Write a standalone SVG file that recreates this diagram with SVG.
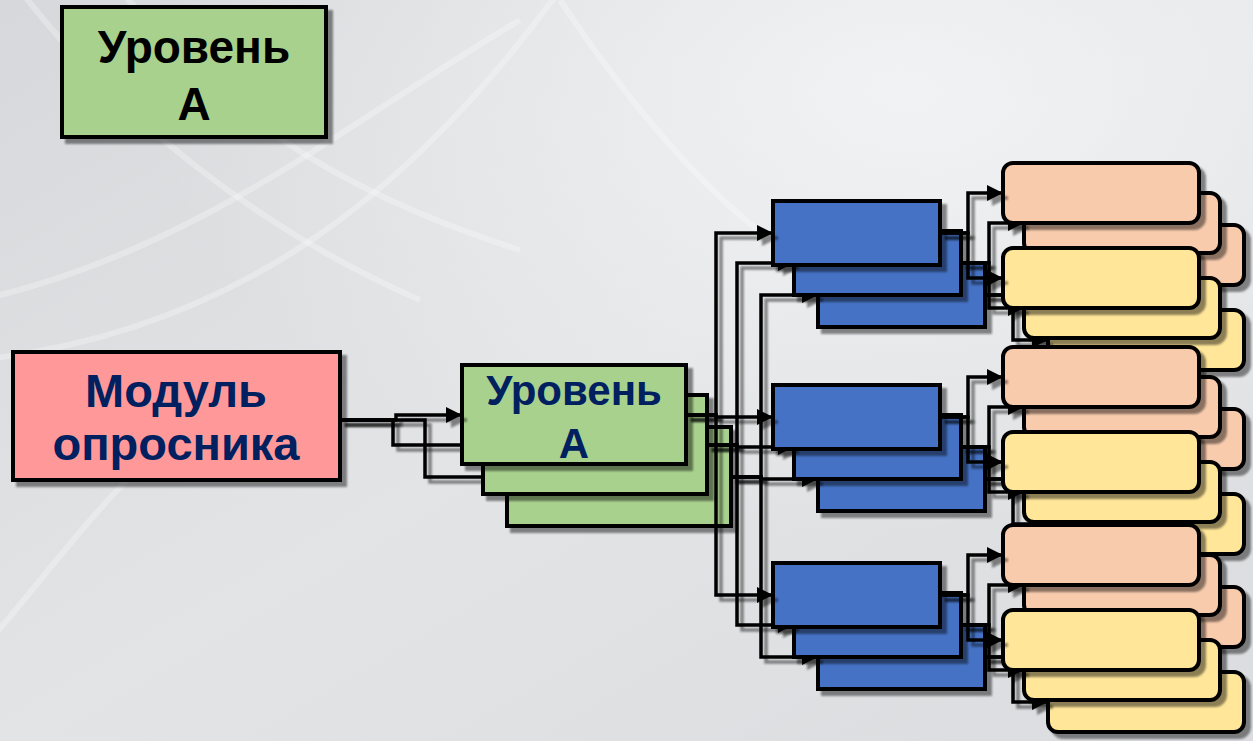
<svg xmlns="http://www.w3.org/2000/svg" width="1253" height="741" viewBox="0 0 1253 741">
<defs>
<linearGradient id="bg" x1="0" y1="0" x2="1" y2="1">
<stop offset="0" stop-color="#d6d8db"/>
<stop offset="0.5" stop-color="#e3e4e6"/>
<stop offset="1" stop-color="#dadcdf"/>
</linearGradient>
<radialGradient id="glow" cx="0.72" cy="0.12" r="0.6">
<stop offset="0" stop-color="#f3f4f5" stop-opacity="0.9"/>
<stop offset="1" stop-color="#f3f4f5" stop-opacity="0"/>
</radialGradient>
<filter id="sh" filterUnits="userSpaceOnUse" x="0" y="0" width="1253" height="741">
<feGaussianBlur in="SourceAlpha" stdDeviation="0.8"/>
<feOffset dx="5" dy="5"/>
<feComponentTransfer><feFuncA type="linear" slope="0.45"/></feComponentTransfer>
<feMerge><feMergeNode/><feMergeNode in="SourceGraphic"/></feMerge>
</filter>
<marker id="ah" markerUnits="userSpaceOnUse" markerWidth="18" markerHeight="18" refX="16" refY="8" orient="auto">
<path d="M0,0 L16,8 L0,16 z" fill="#000"/>
</marker>
<style>
.box{stroke:#000;stroke-width:4;filter:url(#sh)}
.grn{fill:#a9d18e}
.pnk{fill:#ff9999}
.blu{fill:#4472c4}
.org{fill:#f8cbad}
.yel{fill:#ffe699}
.con{fill:none;stroke:#000;stroke-width:3.5;marker-end:url(#ah);filter:url(#sh)}
.t{font-family:"Liberation Sans",Arial,sans-serif;font-weight:bold;text-anchor:middle}
.navy{fill:#002060}
</style>
</defs>
<rect x="0" y="0" width="1253" height="741" fill="url(#bg)"/>
<rect x="0" y="0" width="1253" height="741" fill="url(#glow)"/>
<g fill="none" stroke="#ffffff" stroke-opacity="0.28" stroke-width="6">
<path d="M-20,300 C200,250 350,120 520,20"/>
<path d="M-20,360 C250,330 420,180 560,-10"/>
<path d="M20,-10 C120,120 260,230 420,300"/>
<path d="M120,-10 C220,110 330,190 520,250"/>
<path d="M-10,640 C60,560 120,470 200,420"/>
<path d="M560,0 C640,120 720,210 800,260"/>
</g>

<g id="level-a-top">
<rect class="box grn" x="62" y="7" width="264" height="130"/>
<text class="t" x="194" y="63" font-size="46" fill="#000">Уровень</text>
<text class="t" x="194" y="120" font-size="46" fill="#000">А</text>
</g>

<g id="module">
<rect class="box pnk" x="13" y="352" width="327" height="128"/>
<text class="t navy" x="176" y="407" font-size="47">Модуль</text>
<text class="t navy" x="176" y="460" font-size="47">опросника</text>
</g>

<!-- Layer 3 (back) -->
<g id="green-3"><rect class="box grn" x="507" y="427" width="224" height="99"/></g>
<g id="blue-top-3"><rect class="box blu" x="818" y="263" width="167" height="64"/></g>
<g id="blue-mid-3"><rect class="box blu" x="818" y="447" width="167" height="64"/></g>
<g id="blue-bot-3"><rect class="box blu" x="818" y="625" width="167" height="64"/></g>
<g id="orange-top-3"><rect class="box org" x="1048" y="225" width="196" height="60" rx="10"/></g>
<g id="yellow-top-3"><rect class="box yel" x="1048" y="310" width="196" height="60" rx="10"/></g>
<g id="orange-mid-3"><rect class="box org" x="1048" y="409" width="196" height="60" rx="10"/></g>
<g id="yellow-mid-3"><rect class="box yel" x="1048" y="494" width="196" height="60" rx="10"/></g>
<g id="orange-bot-3"><rect class="box org" x="1048" y="587" width="196" height="60" rx="10"/></g>
<g id="yellow-bot-3"><rect class="box yel" x="1048" y="672" width="196" height="60" rx="10"/></g>
<g id="connectors-3">
<path class="con" d="M340,420 H425 V477 H507"/>
<path class="con" d="M731,477 H761 V295 H818"/>
<path class="con" d="M731,477 H761 V479 H818"/>
<path class="con" d="M731,477 H761 V657 H818"/>
<path class="con" d="M985,295 H1013 V255 H1048"/>
<path class="con" d="M985,295 H1013 V340 H1048"/>
<path class="con" d="M985,479 H1013 V439 H1048"/>
<path class="con" d="M985,479 H1013 V524 H1048"/>
<path class="con" d="M985,657 H1013 V617 H1048"/>
<path class="con" d="M985,657 H1013 V702 H1048"/>
</g>

<!-- Layer 2 -->
<g id="green-2"><rect class="box grn" x="483" y="395" width="224" height="99"/></g>
<g id="blue-top-2"><rect class="box blu" x="794" y="231" width="167" height="64"/></g>
<g id="blue-mid-2"><rect class="box blu" x="794" y="415" width="167" height="64"/></g>
<g id="blue-bot-2"><rect class="box blu" x="794" y="593" width="167" height="64"/></g>
<g id="orange-top-2"><rect class="box org" x="1024" y="193" width="196" height="60" rx="10"/></g>
<g id="yellow-top-2"><rect class="box yel" x="1024" y="278" width="196" height="60" rx="10"/></g>
<g id="orange-mid-2"><rect class="box org" x="1024" y="377" width="196" height="60" rx="10"/></g>
<g id="yellow-mid-2"><rect class="box yel" x="1024" y="462" width="196" height="60" rx="10"/></g>
<g id="orange-bot-2"><rect class="box org" x="1024" y="555" width="196" height="60" rx="10"/></g>
<g id="yellow-bot-2"><rect class="box yel" x="1024" y="640" width="196" height="60" rx="10"/></g>
<g id="connectors-2">
<path class="con" d="M340,420 H393 V445 H483"/>
<path class="con" d="M707,445 H737 V263 H794"/>
<path class="con" d="M707,445 H737 V447 H794"/>
<path class="con" d="M707,445 H737 V625 H794"/>
<path class="con" d="M961,263 H989 V223 H1024"/>
<path class="con" d="M961,263 H989 V308 H1024"/>
<path class="con" d="M961,447 H989 V407 H1024"/>
<path class="con" d="M961,447 H989 V492 H1024"/>
<path class="con" d="M961,625 H989 V585 H1024"/>
<path class="con" d="M961,625 H989 V670 H1024"/>
</g>

<!-- Layer 1 (front) -->
<g id="green-1">
<rect class="box grn" x="462" y="365" width="224" height="99"/>
<text class="t navy" x="574" y="405" font-size="42">Уровень</text>
<text class="t navy" x="574" y="458" font-size="42">А</text>
</g>
<g id="blue-top-1"><rect class="box blu" x="773" y="201" width="167" height="64"/></g>
<g id="blue-mid-1"><rect class="box blu" x="773" y="385" width="167" height="64"/></g>
<g id="blue-bot-1"><rect class="box blu" x="773" y="563" width="167" height="64"/></g>
<g id="orange-top-1"><rect class="box org" x="1003" y="163" width="196" height="60" rx="10"/></g>
<g id="yellow-top-1"><rect class="box yel" x="1003" y="248" width="196" height="60" rx="10"/></g>
<g id="orange-mid-1"><rect class="box org" x="1003" y="347" width="196" height="60" rx="10"/></g>
<g id="yellow-mid-1"><rect class="box yel" x="1003" y="432" width="196" height="60" rx="10"/></g>
<g id="orange-bot-1"><rect class="box org" x="1003" y="525" width="196" height="60" rx="10"/></g>
<g id="yellow-bot-1"><rect class="box yel" x="1003" y="610" width="196" height="60" rx="10"/></g>
<g id="connectors-1">
<path class="con" d="M340,420 H396 V415 H462"/>
<path class="con" d="M686,415 H716 V233 H773"/>
<path class="con" d="M686,415 H716 V417 H773"/>
<path class="con" d="M686,415 H716 V595 H773"/>
<path class="con" d="M940,233 H968 V193 H1003"/>
<path class="con" d="M940,233 H968 V278 H1003"/>
<path class="con" d="M940,417 H968 V377 H1003"/>
<path class="con" d="M940,417 H968 V462 H1003"/>
<path class="con" d="M940,595 H968 V555 H1003"/>
<path class="con" d="M940,595 H968 V640 H1003"/>
</g>
</svg>
